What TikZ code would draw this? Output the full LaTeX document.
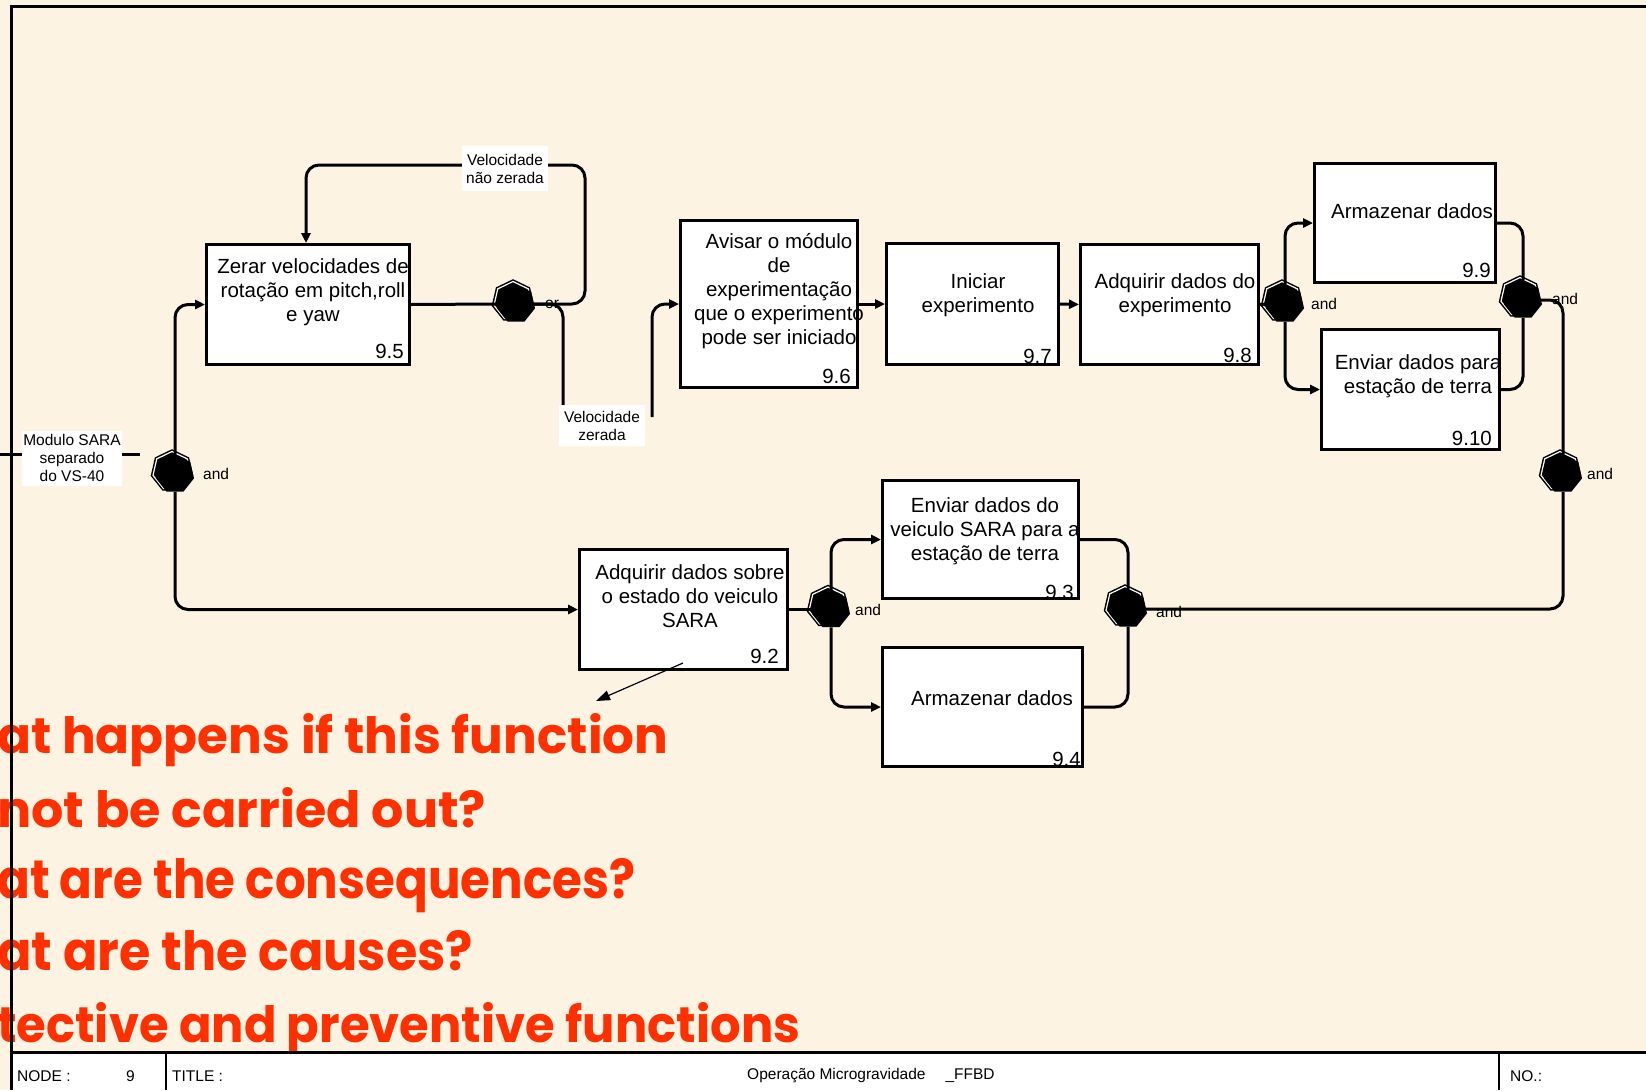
\documentclass[tikz,border=0pt]{standalone}
\usepackage{fontspec}
\usepackage{graphicx}
\setmainfont{Liberation Sans}
\newfontfamily\redfont{Poppins}
\usetikzlibrary{arrows.meta,shapes.geometric,calc}
\definecolor{bgcream}{RGB}{253,243,226}
\definecolor{redtxt}{RGB}{255,48,0}
\tikzset{
  fbox/.style={draw, fill=white, line width=3pt, inner sep=0pt},
  btext/.style={font=\fontsize{20.5}{24}\selectfont, align=center, inner sep=0pt},
  bnum/.style={font=\fontsize{20.5}{24}\selectfont, anchor=base east, inner sep=0pt},
  lbl/.style={fill=white, font=\fontsize{15.5}{18}\selectfont, align=center, inner sep=1pt},
  jlbl/.style={font=\fontsize{15.5}{18}\selectfont, anchor=west, inner sep=0pt},
  ttl/.style={font=\fontsize{15.5}{18}\selectfont, anchor=west, inner sep=0pt},
  conn/.style={line width=3pt, rounded corners=13pt},
  arr/.style={-{Triangle[length=10pt,width=9pt]}},
  junc/.style={regular polygon, regular polygon sides=7, minimum size=39pt, inner sep=0pt, fill=black},
  juncback/.style={junc, draw=black, double=white, double distance=1.2pt, line width=1.5pt},
  redline/.style={anchor=base west, inner sep=0pt, text=redtxt, font=\redfont\bfseries},
}
\begin{document}
\begin{tikzpicture}[x=1pt,y=-1pt]
\useasboundingbox (0,0) rectangle (1646,1090);
\fill[bgcream] (0,0) rectangle (1646,1090);

% junction labels (lines pass over them)
\node[jlbl] (jl1) at (203,474) {and};
\node[jlbl] (jl2) at (545,304) {or};
\node[jlbl] (jl3) at (1311,304) {and};
\node[jlbl] (jl4) at (1552,299) {and};
\node[jlbl] (jl5) at (1587,474) {and};
\node[jlbl] (jl6) at (855,610) {and};
\node[jlbl] (jl7) at (1156,612) {and};

% function boxes
\node[fbox, minimum width=203, minimum height=120] (b95) at (308,304.5) {};
\node[fbox, minimum width=177, minimum height=167] (b96) at (769,304) {};
\node[fbox, minimum width=172, minimum height=121] (b97) at (972.5,304) {};
\node[fbox, minimum width=178, minimum height=120] (b98) at (1169.5,304.5) {};
\node[fbox, minimum width=181, minimum height=119] (b99) at (1405,223) {};
\node[fbox, minimum width=178, minimum height=120] (b910) at (1410.5,389.5) {};
\node[fbox, minimum width=208, minimum height=120] (b92) at (683.5,609.5) {};
\node[fbox, minimum width=196, minimum height=118] (b93) at (980.5,539.5) {};
\node[fbox, minimum width=200, minimum height=119] (b94) at (982.5,707) {};

% box texts
\node[btext] (t95) at (313,292) {Zerar velocidades de\\rotação em pitch,roll\\e yaw};
\node[btext] (t96) at (779,291.4) {Avisar o módulo\\de\\experimentação\\que o experimento\\pode ser iniciado};
\node[btext] (t97) at (978,295) {Iniciar\\experimento};
\node[btext] (t98) at (1175,295) {Adquirir dados do\\experimento};
\node[btext] (t99) at (1412,211) {Armazenar dados};
\node[btext] (t910) at (1418,376.5) {Enviar dados para\\estação de terra};
\node[btext] (t92) at (690,596) {Adquirir dados sobre\\o estado do veiculo\\SARA};
\node[btext] (t93) at (985,531.7) {Enviar dados do\\veiculo SARA para a\\estação de terra};
\node[btext] (t94) at (992,698) {Armazenar dados};

% box numbers
\node[bnum] (n95) at (404,358) {9.5};
\node[bnum] (n96) at (851,383) {9.6};
\node[bnum] (n97) at (1052,363) {9.7};
\node[bnum] (n98) at (1252,362) {9.8};
\node[bnum] (n99) at (1491,277) {9.9};
\node[bnum] (n910) at (1492,445) {9.10};
\node[bnum] (n92) at (779,663) {9.2};
\node[bnum] (n93) at (1074,599) {9.3};
\node[bnum] (n94) at (1081,766) {9.4};

% junctions
\node[juncback] at (172,471) {};
\node[junc] (J1) at (175,474) {};
\node[juncback] at (513,301) {};
\node[junc] (J2) at (516,304) {};
\node[juncback] at (1282,301) {};
\node[junc] (J3) at (1285,304) {};
\node[juncback] at (1520,297) {};
\node[junc] (J4) at (1523,300) {};
\node[juncback] at (1560,471) {};
\node[junc] (J5) at (1563,474) {};
\node[juncback] at (828,606.5) {};
\node[junc] (J6) at (831,609.5) {};
\node[juncback] at (1125,606) {};
\node[junc] (J7) at (1128,609) {};

% coordinates for free ends / routing
\coordinate (in0) at (0,454);
\coordinate (in1) at (140,454);
\coordinate (loopR) at (585,165);
\coordinate (loopX) at (306,0);
\coordinate (zdown) at (563,405);
\coordinate (sa0) at (683,663);
\coordinate (sa1) at (596,701);

% connectors
\draw[conn] (in0) -- (in1);
\draw[conn,arr] (J1.north) |- (b95.west);
\draw[conn,arr] (J1.south) |- (b92.west);
\draw[conn] (b95.east) -- (J2.west);
\draw[conn,arr] (J2.east) -| (loopR) -| (b95.north -| loopX);
\draw[conn] (J2.east) -| (zdown);
\draw[conn,arr] ($(b96.west)+(-27,113)$) -- ($(b96.west)+(-27,90)$) |- (b96.west);
\draw[conn,arr] (b96.east) -- (b97.west);
\draw[conn,arr] (b97.east) -- (b98.west);
\draw[conn] (b98.east) -- (J3.west);
\draw[conn,arr] (J3.north) |- (b99.west);
\draw[conn,arr] (J3.south) |- (b910.west);
\draw[conn] (b99.east) -| (J4.north);
\draw[conn] (b910.east) -| (J4.south);
\draw[conn] (J4.east) -| (J5.north);
\draw[conn] (J5.south) |- (J7.east);
\draw[conn] (b92.east) -- (J6.west);
\draw[conn,arr] (J6.north) |- (b93.west);
\draw[conn,arr] (J6.south) |- (b94.west);
\draw[conn] (b93.east) -| (J7.north);
\draw[conn] (b94.east) -| (J7.south);
\draw[line width=1.2pt, -{Triangle[length=14pt,width=10pt]}] (sa0) -- (sa1);

% labels on connectors
\node[lbl, minimum width=86, minimum height=45] (lv1) at (505,168.5) {Velocidade\\não zerada};
\node[lbl, minimum width=86, minimum height=41] (lv2) at (602,425.5) {Velocidade\\zerada};
\node[lbl, minimum width=97, minimum height=55] (lsara) at (72,458) {Modulo SARA\\separado\\do VS-40};

% red questions
\node[redline] (q1) at (-3,753) {\resizebox{671pt}{40pt}{at happens if this function}};
\node[redline] (q2) at (-3,827) {\resizebox{489pt}{40pt}{not be carried out?}};
\node[redline] (q3) at (-3,898) {\resizebox{638pt}{40pt}{at are the consequences?}};
\node[redline] (q4) at (-3,970) {\resizebox{476pt}{40pt}{at are the causes?}};
\node[redline] (q5) at (-3,1042) {\resizebox{803pt}{40pt}{tective and preventive functions}};

% title bar
\fill[white] (12.5,1053.5) rectangle (1646,1090);
\draw[line width=3pt] (11,1052) -- (1646,1052);
\draw[line width=2.5pt] (166,1052) -- (166,1090);
\draw[line width=2.5pt] (1499,1052) -- (1499,1090);
\node[ttl] (tnode) at (17,1076) {NODE :};
\node[ttl] (tnum) at (126,1076) {9};
\node[ttl] (ttitle) at (172,1076) {TITLE :};
\node[ttl] (tname) at (747,1076) {Operação Microgravidade\hspace{20pt}\_FFBD};
\node[ttl] (tno) at (1510,1076) {NO.:};

% outer frame
\draw[line width=3pt] (11,1090) -- (11,6) -- (1646,6);
\end{tikzpicture}
\end{document}
